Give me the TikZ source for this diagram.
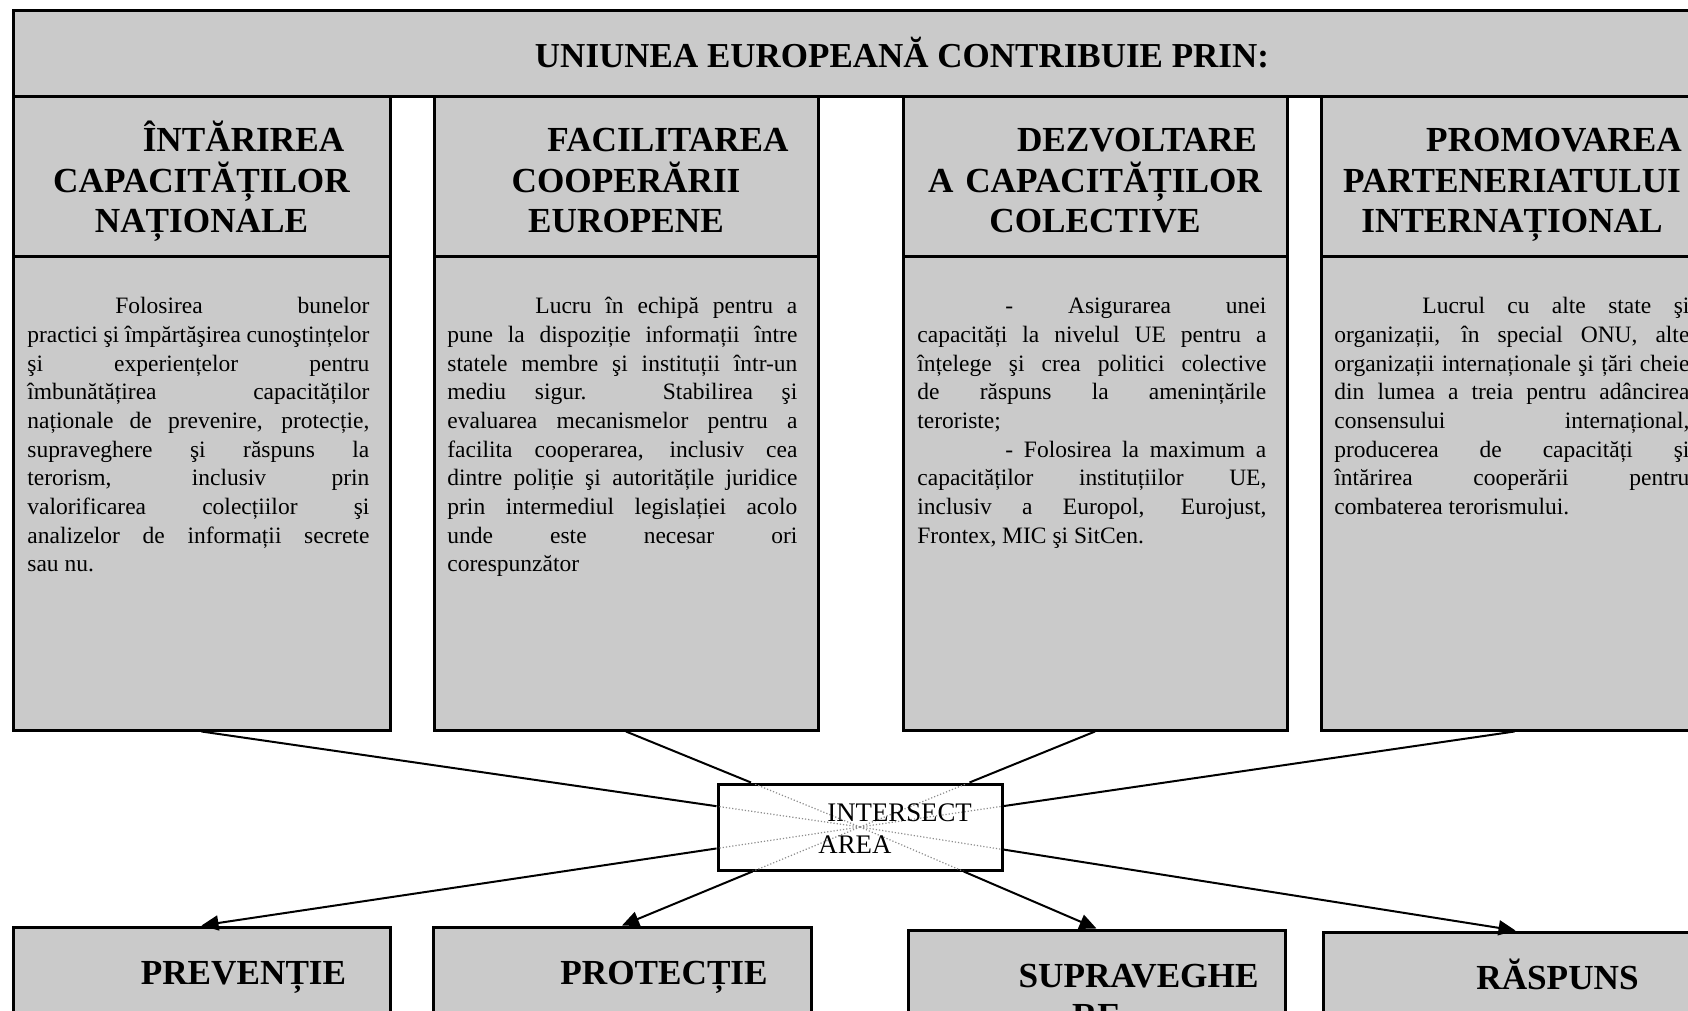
\documentclass[tikz,border=0pt]{standalone}
\usepackage{fontspec}
\setmainfont{Liberation Serif}
\usetikzlibrary{arrows.meta}
\definecolor{boxgray}{RGB}{202,202,202}
\tolerance=10000
\hbadness=10000
\hyphenpenalty=10000
\exhyphenpenalty=10000
\begin{document}
\begin{tikzpicture}[x=0.5pt,y=-0.5pt,
  gbox/.style={draw=black,line width=1.5pt,fill=boxgray,rectangle,inner sep=0pt},
  wbox/.style={draw=black,line width=1.5pt,fill=white,rectangle,inner sep=0pt},
  headtxt/.style={inner sep=0pt,anchor=base,align=center,text width=#1,font=\fontsize{17.6}{20.2}\selectfont\bfseries},
  bodytxt/.style={inner sep=0pt,anchor=base west,align=justify,text width=#1,font=\fontsize{11.75}{14.33}\selectfont},
  conn/.style={line width=1pt,black},
  arr/.style={line width=1pt,black,-{Triangle[length=8.5pt,width=7.5pt]}},
  dotline/.style={black!45,line width=0.6pt,densely dotted}
]
\useasboundingbox (0,0) rectangle (1688,1011);
\clip (0,0) rectangle (1688,1011);

% title
\node[gbox,minimum width=1787*0.5pt,minimum height=86*0.5pt] (title) at (906.5,54) {};
\node[inner sep=0pt,anchor=base,font=\fontsize{17.5}{20}\selectfont\bfseries] (titletxt) at (902,68) {UNIUNEA EUROPEANĂ CONTRIBUIE PRIN:};

% header boxes
\node[gbox,minimum width=377*0.5pt,minimum height=159*0.5pt] (h1) at (201.5,176.5) {};
\node[gbox,minimum width=384*0.5pt,minimum height=159*0.5pt] (h2) at (626,176.5) {};
\node[gbox,minimum width=384*0.5pt,minimum height=159*0.5pt] (h3) at (1095,176.5) {};
\node[gbox,minimum width=387*0.5pt,minimum height=159*0.5pt] (h4) at (1514.5,176.5) {};

% body boxes
\node[gbox,minimum width=377*0.5pt,minimum height=474*0.5pt] (b1) at (201.5,493) {};
\node[gbox,minimum width=384*0.5pt,minimum height=474*0.5pt] (b2) at (626,493) {};
\node[gbox,minimum width=384*0.5pt,minimum height=474*0.5pt] (b3) at (1095,493) {};
\node[gbox,minimum width=387*0.5pt,minimum height=474*0.5pt] (b4) at (1514.5,493) {};

% bottom boxes
\node[gbox,minimum width=377*0.5pt,minimum height=273*0.5pt] (p1) at (201.5,1063.5) {};
\node[gbox,minimum width=378*0.5pt,minimum height=273*0.5pt] (p2) at (622,1063.5) {};
\node[gbox,minimum width=377*0.5pt,minimum height=270*0.5pt] (p3) at (1096.5,1065) {};
\node[gbox,minimum width=385*0.5pt,minimum height=268*0.5pt] (p4) at (1515.5,1066) {};

% header texts
\node[headtxt=178pt] (h1t) at (201.5,152) {\hspace*{42pt}ÎNTĂRIREA\\CAPACITĂȚILOR\\NAȚIONALE};
\node[headtxt=182pt] (h2t) at (626,152) {\hspace*{42pt}FACILITAREA\\COOPERĂRII\\EUROPENE};
\node[headtxt=182pt] (h3t) at (1095,152) {\hspace*{42pt}DEZVOLTARE\\A CAPACITĂȚILOR\\COLECTIVE};
\node[headtxt=184pt] (h4t) at (1512,152) {\hspace*{42pt}PROMOVAREA\\PARTENERIATULUI\\INTERNAȚIONAL};

% body texts
\node[bodytxt=171pt] (b1t) at (27,314) {\hspace*{44pt}Folosirea bunelor\linebreak practici şi împărtăşirea cunoştințelor\linebreak şi experiențelor pentru\linebreak îmbunătățirea capacităților\linebreak naționale de prevenire, protecție,\linebreak supraveghere şi răspuns la\linebreak terorism, inclusiv prin\linebreak valorificarea colecțiilor şi\linebreak analizelor de informații secrete\linebreak sau nu.};
\node[bodytxt=175pt] (b2t) at (447,314) {\hspace*{44pt}Lucru în echipă pentru a\linebreak pune la dispoziție informații între\linebreak statele membre şi instituții într-un\linebreak mediu sigur. Stabilirea şi\linebreak evaluarea mecanismelor pentru a\linebreak facilita cooperarea, inclusiv cea\linebreak dintre poliție şi autoritățile juridice\linebreak prin intermediul legislației acolo\linebreak unde este necesar ori\linebreak corespunzător};
\node[bodytxt=174.5pt] (b3t) at (917,314) {\hspace*{44pt}- Asigurarea unei\linebreak capacități la nivelul UE pentru a\linebreak înțelege şi crea politici colective\linebreak de răspuns la amenințările\linebreak teroriste;\par\hspace*{44pt}- Folosirea la maximum a\linebreak capacităților instituțiilor UE,\linebreak inclusiv a Europol, Eurojust,\linebreak Frontex, MIC şi SitCen.};
\node[bodytxt=177.5pt] (b4t) at (1334,314) {\hspace*{44pt}Lucrul cu alte state şi\linebreak organizații, în special ONU, alte\linebreak organizații internaționale şi țări cheie\linebreak din lumea a treia pentru adâncirea\linebreak consensului internațional,\linebreak producerea de capacități şi\linebreak întărirea cooperării pentru\linebreak combaterea terorismului.};

% bottom texts
\node[headtxt=178pt] (p1t) at (201.5,984) {\hspace*{42pt}PREVENȚIE};
\node[headtxt=178pt] (p2t) at (622,984) {\hspace*{42pt}PROTECȚIE};
\node[headtxt=178pt] (p3t) at (1096.5,987) {\hspace*{42pt}SUPRAVEGHE\\RE};
\node[headtxt=182pt] (p4t) at (1515.5,989) {\hspace*{42pt}RĂSPUNS};

% intersect area
\node[wbox,minimum width=284*0.5pt,minimum height=86*0.5pt] (ia) at (860,827) {};

% connectors
\draw[conn] (b1.south) -- (ia);
\draw[conn] (b2.south) -- (ia);
\draw[conn] (b3.south) -- (ia);
\draw[conn] (b4.south) -- (ia);
\draw[arr] (ia) -- (p1.north);
\draw[arr] (ia) -- (p2.north);
\draw[arr] (ia) -- (p3.north);
\draw[arr] (ia) -- (p4.north);

% faint continuation inside the box
\begin{scope}
\clip ([xshift=0.75pt,yshift=0.75pt]ia.south west) rectangle ([xshift=-0.75pt,yshift=-0.75pt]ia.north east);
\draw[dotline] (ia.center) -- (b1.south);
\draw[dotline] (ia.center) -- (b2.south);
\draw[dotline] (ia.center) -- (b3.south);
\draw[dotline] (ia.center) -- (b4.south);
\draw[dotline] (ia.center) -- (p1.north);
\draw[dotline] (ia.center) -- (p2.north);
\draw[dotline] (ia.center) -- (p3.north);
\draw[dotline] (ia.center) -- (p4.north);
\end{scope}

\node[inner sep=0pt,anchor=base west,font=\fontsize{13.4}{16}\selectfont] (ia1) at (827,821) {INTERSECT};
\node[inner sep=0pt,anchor=base west,font=\fontsize{13.4}{16}\selectfont] (ia2) at (818,853) {AREA};
\end{tikzpicture}
\end{document}
